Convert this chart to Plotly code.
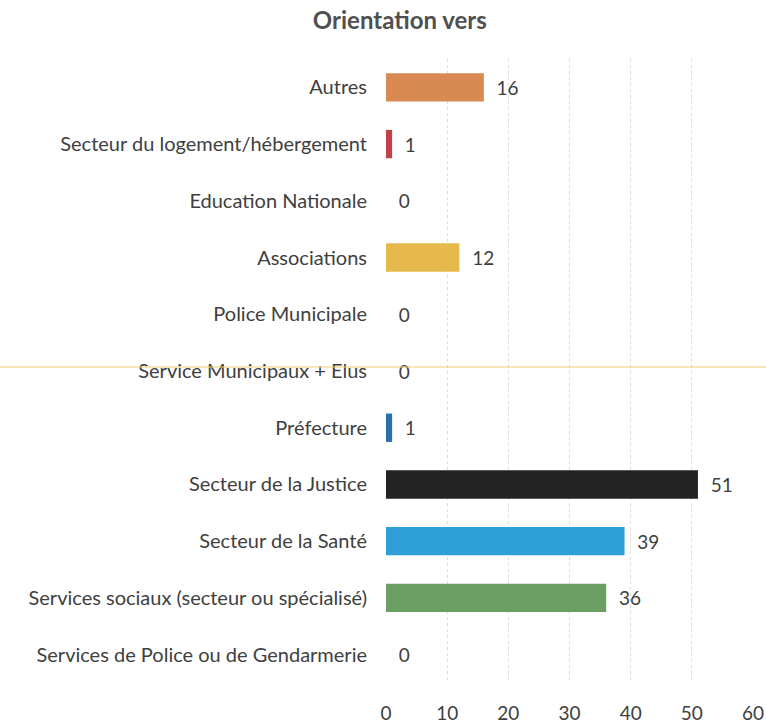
import plotly.graph_objects as go

categories = [
    "Services de Police ou de Gendarmerie",
    "Services sociaux (secteur ou spécialisé)",
    "Secteur de la Santé",
    "Secteur de la Justice",
    "Préfecture",
    "Service Municipaux + Elus",
    "Police Municipale",
    "Associations",
    "Education Nationale",
    "Secteur du logement/hébergement",
    "Autres",
]
values = [0, 36, 39, 51, 1, 0, 0, 12, 0, 1, 16]
colors = ["#7f7f7f", "#6b9e63", "#2e9fd6", "#232323", "#2a6fae", "#7f7f7f",
          "#7f7f7f", "#e6b94c", "#7f7f7f", "#c0414b", "#d98a52"]
x_ticks = [0, 10, 20, 30, 40, 50, 60]
title = "Orientation vers"

fig = go.Figure(go.Bar(
    y=categories, x=values, orientation="h",
    marker=dict(color=colors, line=dict(width=0)),
    text=values, texttemplate="  %{x}", textposition="outside",
    textfont=dict(family="Lato, Open Sans, sans-serif", size=19, color="#404040"),
    cliponaxis=False,
))

fig.update_layout(
    width=766, height=724,
    paper_bgcolor="white", plot_bgcolor="white",
    margin=dict(l=386, r=13, t=59, b=41, autoexpand=False),
    title=dict(text="<b>" + title + "</b>", x=0.522, xanchor="center", y=0.972, yanchor="middle",
               automargin=False,
               font=dict(family="Lato, Open Sans, sans-serif", size=24, color="#505050")),
    bargap=0.5,
    showlegend=False,
    font=dict(family="Lato, Open Sans, sans-serif", size=19, color="#404040"),
)
fig.update_xaxes(range=[0, 60], tickvals=x_ticks, showgrid=True,
                 gridcolor="#dcdcdc", griddash="dot", gridwidth=1,
                 zeroline=False, showline=False, ticks="", automargin=False,
                 ticklabelstandoff=17,
                 tickfont=dict(size=19, color="#404040"))
fig.update_yaxes(showgrid=False, zeroline=False, showline=False, ticks="",
                 automargin=False, ticklabelstandoff=18,
                 tickfont=dict(size=20, color="#404040"))

fig.add_shape(type="line", xref="paper", yref="paper", x0=-1.2, x1=1.1,
              y0=(683 - 367) / 624, y1=(683 - 367) / 624,
              line=dict(color="#f2cf6e", width=1.2))

fig.write_html("out.html",
               config={"displayModeBar": False},
               post_script="document.body.style.margin='0';document.body.style.overflow='hidden';")
